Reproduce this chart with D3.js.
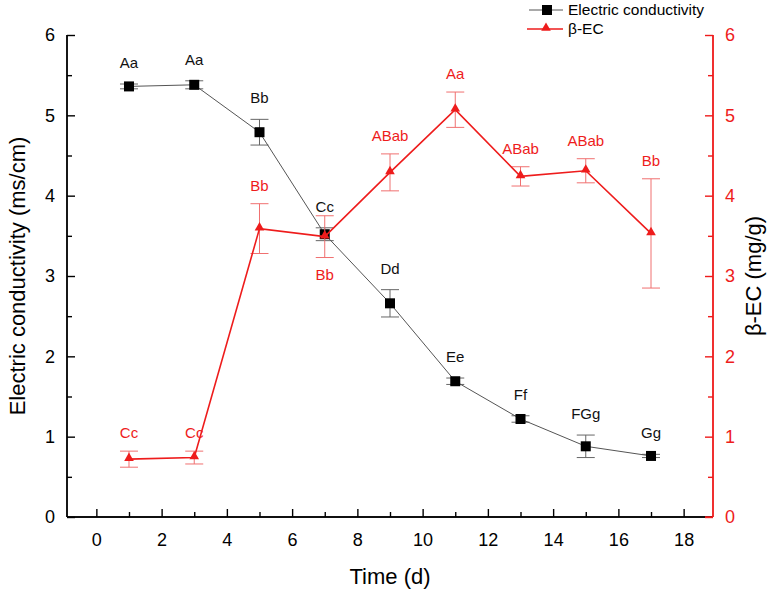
<!DOCTYPE html>
<html><head><meta charset="utf-8">
<script src="https://cdn.jsdelivr.net/npm/d3@7"></script>
<style>body{margin:0;background:#fff}text{font-family:"Liberation Sans",Arial,sans-serif}</style>
</head><body><svg id="c" width="774" height="593"></svg>
<script>
const days = [1,3,5,7,9,11,13,15,17];
const ecValues = [5.36,5.38,4.79,3.52,2.66,1.69,1.22,0.88,0.76];
const ecErrors = [0.03,0.05,0.16,0.08,0.17,0.04,0.04,0.14,0.02];
const ecLabels = ["Aa","Aa","Bb","Cc","Dd","Ee","Ff","FGg","Gg"];
const betaValues = [0.72,0.74,3.59,3.49,4.29,5.07,4.24,4.31,3.53];
const betaErrors = [0.10,0.08,0.31,0.26,0.23,0.22,0.12,0.15,0.68];
const betaLabels = ["Cc","Cc","Bb","Bb","ABab","Aa","ABab","ABab","Bb"];
const betaLabelBelow = [false,false,false,true,false,false,false,false,false];
const xTicks = [0,2,4,6,8,10,12,14,16,18];
const yTicks = [0,1,2,3,4,5,6];

const svg = d3.select("#c");
const L=67,R=713,T=35,B=517;
const x = d3.scaleLinear().domain([-0.9,18.9]).range([L,R]);
const yL = d3.scaleLinear().domain([0,6]).range([B,T]);
const yR = d3.scaleLinear().domain([0,6]).range([B,T]);
const red="#ee1c1c", redLight="#f07070";

// Bottom axis
const gx = svg.append("g").attr("transform",`translate(0,${B})`);
gx.call(d3.axisBottom(x).tickValues(xTicks).tickSize(-8).tickPadding(16).tickFormat(d3.format("d")));
gx.append("g").call(d3.axisBottom(x).tickValues(d3.range(1,19,2)).tickSize(-5).tickFormat(""));
gx.selectAll(".domain").attr("d",`M${L},0H${R}`);
// Left axis
const gl = svg.append("g").attr("transform",`translate(${L},0)`);
gl.call(d3.axisLeft(yL).tickValues(yTicks).tickSize(-8).tickPadding(12).tickFormat(d3.format("d")));
gl.append("g").call(d3.axisLeft(yL).tickValues(d3.range(0.5,6,1)).tickSize(-5).tickFormat(""));
// Right axis
const gr = svg.append("g").attr("transform",`translate(${R},0)`);
gr.call(d3.axisRight(yR).tickValues(yTicks).tickSize(-8).tickPadding(12).tickFormat(d3.format("d")));
gr.append("g").call(d3.axisRight(yR).tickValues(d3.range(0.5,6,1)).tickSize(-5).tickFormat(""));
svg.selectAll(".tick text").attr("font-size",18).attr("font-family","Liberation Sans, Arial, sans-serif");
gx.selectAll("path,line").attr("stroke","#000").attr("stroke-width",1.4);
gl.selectAll("path,line").attr("stroke","#000").attr("stroke-width",1.4);
gr.selectAll("path,line").attr("stroke",red).attr("stroke-width",1.4);
gr.selectAll("text").attr("fill",red);
gr.selectAll(".domain").attr("d",`M0,${T}V${B}`);
gl.selectAll(".domain").attr("d",`M0,${T}V${B}`);
svg.append("line").attr("x1",R-8).attr("x2",R).attr("y1",B).attr("y2",B).attr("stroke",red).attr("stroke-width",1.4);

// Axis titles
svg.append("text").attr("transform",`translate(25,${(T+B)/2}) rotate(-90)`).attr("text-anchor","middle")
  .attr("font-size",22).text("Electric conductivity (ms/cm)");
svg.append("text").attr("transform",`translate(761,${(T+B)/2}) rotate(-90)`).attr("text-anchor","middle")
  .attr("font-size",22).text("β-EC (mg/g)");
svg.append("text").attr("x",(L+R)/2).attr("y",584).attr("text-anchor","middle").attr("font-size",22).text("Time (d)");

const ec = days.map((d,i)=>({d,v:ecValues[i],e:ecErrors[i],l:ecLabels[i]}));
const be = days.map((d,i)=>({d,v:betaValues[i],e:betaErrors[i],l:betaLabels[i],below:betaLabelBelow[i]}));

function errorBars(data,y,color,cap,sw){
  const g=svg.append("g").attr("stroke",color).attr("stroke-width",sw);
  data.forEach(p=>{
    const cx=x(p.d), y1=y(p.v+p.e), y2=y(p.v-p.e);
    g.append("line").attr("x1",cx).attr("x2",cx).attr("y1",y1).attr("y2",y2);
    g.append("line").attr("x1",cx-cap).attr("x2",cx+cap).attr("y1",y1).attr("y2",y1);
    g.append("line").attr("x1",cx-cap).attr("x2",cx+cap).attr("y1",y2).attr("y2",y2);
  });
}
// EC series
errorBars(ec,yL,"#666",9,1);
svg.append("path").datum(ec).attr("fill","none").attr("stroke","#555").attr("stroke-width",1)
  .attr("d",d3.line().x(p=>x(p.d)).y(p=>yL(p.v)));
svg.selectAll(".sq").data(ec).join("rect").attr("x",p=>x(p.d)-5).attr("y",p=>yL(p.v)-5)
  .attr("width",10).attr("height",10).attr("fill","#000");
svg.selectAll(".ecl").data(ec).join("text").attr("x",p=>x(p.d)).attr("y",p=>yL(p.v+p.e)-16)
  .attr("text-anchor","middle").attr("font-size",15).attr("fill","#111").text(p=>p.l);

// beta-EC series
errorBars(be,yR,redLight,9,1);
svg.append("path").datum(be).attr("fill","none").attr("stroke",red).attr("stroke-width",1.6)
  .attr("d",d3.line().x(p=>x(p.d)).y(p=>yR(p.v)));
const tri=d3.symbol().type(d3.symbolTriangle).size(40);
svg.selectAll(".tr").data(be).join("path").attr("d",tri)
  .attr("transform",p=>`translate(${x(p.d)},${yR(p.v)-1})`).attr("fill",red);
svg.selectAll(".bel").data(be).join("text").attr("x",p=>x(p.d))
  .attr("y",p=>p.below? yR(p.v-p.e)+22 : yR(p.v+p.e)-13)
  .attr("text-anchor","middle").attr("font-size",15).attr("fill",red).text(p=>p.l);

// Legend
const lg=svg.append("g");
lg.append("line").attr("x1",529).attr("x2",563).attr("y1",10).attr("y2",10).attr("stroke","#555").attr("stroke-width",1);
lg.append("rect").attr("x",542).attr("y",5).attr("width",10).attr("height",10).attr("fill","#000");
lg.append("text").attr("x",568).attr("y",15).attr("font-size",15.5).text("Electric conductivity");
lg.append("line").attr("x1",527).attr("x2",563).attr("y1",29).attr("y2",29).attr("stroke",red).attr("stroke-width",1.6);
lg.append("path").attr("d",tri).attr("transform","translate(546,28)").attr("fill",red);
lg.append("text").attr("x",568).attr("y",34).attr("font-size",15.5).text("β-EC");
</script></body></html>
